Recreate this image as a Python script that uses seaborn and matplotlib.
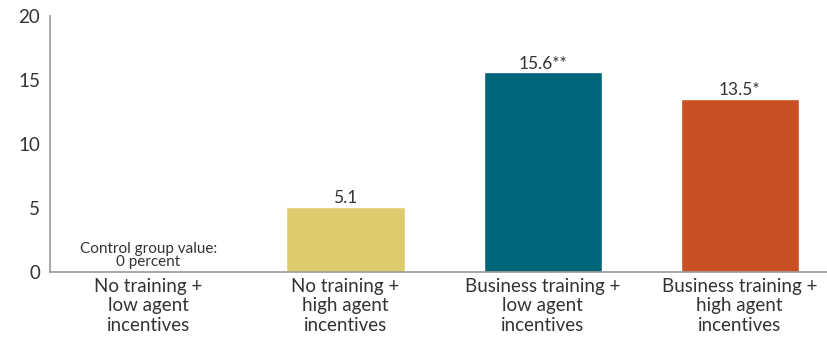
import matplotlib
matplotlib.use("Agg")
import matplotlib.pyplot as plt
import seaborn as sns
import pandas as pd

categories = ["No training +\nlow agent\nincentives", "No training +\nhigh agent\nincentives",
              "Business training +\nlow agent\nincentives", "Business training +\nhigh agent\nincentives"]
values = [0.0, 5.1, 15.6, 13.5]
bar_labels = ["Control group value:\n0 percent", "5.1", "15.6**", "13.5*"]
colors = ["#7fa8b8", "#DECB6B", "#006679", "#C85022"]
yticks = [0, 5, 10, 15, 20]

sns.set_style("white")
plt.rcParams['font.family'] = ['Lato', 'DejaVu Sans']

df = pd.DataFrame({"cat": categories, "val": values})
fig = plt.figure(figsize=(8.28, 3.37), dpi=100)
ax = fig.add_axes([0.0604, 0.193, 0.952, 0.76])
sns.barplot(data=df, x="cat", y="val", hue="cat", palette=colors, legend=False,
            width=0.6, ax=ax, saturation=1)
ax.set_ylim(0, 20)
ax.set_xlim(-0.5, 3.5)
ax.set_yticks(yticks)
ax.set_xlabel("")
ax.set_ylabel("")
for s in ["top", "right"]:
    ax.spines[s].set_visible(False)
for s in ["left", "bottom"]:
    ax.spines[s].set_color("#999999")
    ax.spines[s].set_linewidth(1.2)
ax.tick_params(axis="y", length=4, color="#999999", labelsize=13.5, labelcolor="#333333", pad=3)
ax.tick_params(axis="x", length=0, labelsize=13.5, labelcolor="#333333", pad=4)
for i, (v, lab) in enumerate(zip(values, bar_labels)):
    fs = 11 if i == 0 else 12.5
    ax.text(i, v + (0.2 if i == 0 else 0.05), lab, ha="center", va="bottom", fontsize=fs,
            color="#333333", linespacing=0.95)
fig.savefig("out.png", dpi=100)
